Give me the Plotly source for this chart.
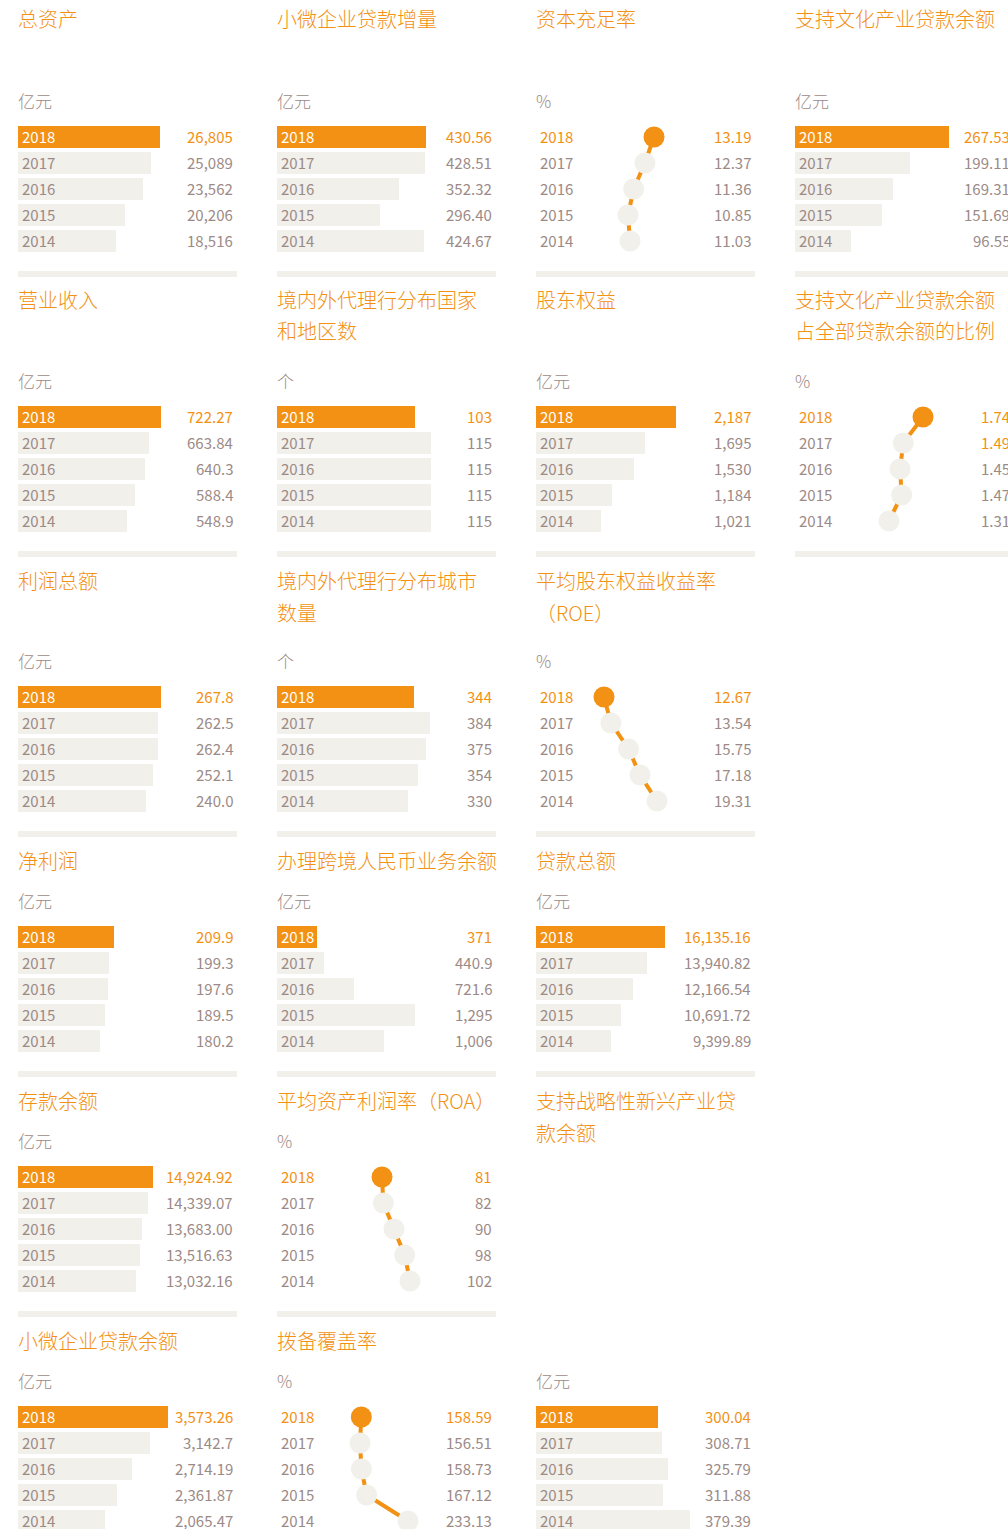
import plotly.graph_objects as go

# ---- data -------------------------------------------------------------
years = ["2018", "2017", "2016", "2015", "2014"]

total_assets = [26805, 25089, 23562, 20206, 18516]
total_assets_lbl = ["26,805", "25,089", "23,562", "20,206", "18,516"]

sme_loan_increase = [430.56, 428.51, 352.32, 296.40, 424.67]
sme_loan_increase_lbl = ["430.56", "428.51", "352.32", "296.40", "424.67"]

capital_adequacy = [13.19, 12.37, 11.36, 10.85, 11.03]
capital_adequacy_lbl = ["13.19", "12.37", "11.36", "10.85", "11.03"]

culture_loans = [267.53, 199.11, 169.31, 151.69, 96.55]
culture_loans_lbl = ["267.53", "199.11", "169.31", "151.69", "96.55"]

revenue = [722.27, 663.84, 640.3, 588.4, 548.9]
revenue_lbl = ["722.27", "663.84", "640.3", "588.4", "548.9"]

agent_countries = [103, 115, 115, 115, 115]
agent_countries_lbl = ["103", "115", "115", "115", "115"]

equity = [2187, 1695, 1530, 1184, 1021]
equity_lbl = ["2,187", "1,695", "1,530", "1,184", "1,021"]

culture_loan_share = [1.74, 1.49, 1.45, 1.47, 1.31]
culture_loan_share_lbl = ["1.74", "1.49", "1.45", "1.47", "1.31"]

total_profit = [267.8, 262.5, 262.4, 252.1, 240.0]
total_profit_lbl = ["267.8", "262.5", "262.4", "252.1", "240.0"]

agent_cities = [344, 384, 375, 354, 330]
agent_cities_lbl = ["344", "384", "375", "354", "330"]

roe = [12.67, 13.54, 15.75, 17.18, 19.31]
roe_lbl = ["12.67", "13.54", "15.75", "17.18", "19.31"]

net_profit = [209.9, 199.3, 197.6, 189.5, 180.2]
net_profit_lbl = ["209.9", "199.3", "197.6", "189.5", "180.2"]

cross_border_rmb = [371, 440.9, 721.6, 1295, 1006]
cross_border_rmb_lbl = ["371", "440.9", "721.6", "1,295", "1,006"]

total_loans = [16135.16, 13940.82, 12166.54, 10691.72, 9399.89]
total_loans_lbl = ["16,135.16", "13,940.82", "12,166.54", "10,691.72", "9,399.89"]

deposits = [14924.92, 14339.07, 13683.00, 13516.63, 13032.16]
deposits_lbl = ["14,924.92", "14,339.07", "13,683.00", "13,516.63", "13,032.16"]

roa = [81, 82, 90, 98, 102]
roa_lbl = ["81", "82", "90", "98", "102"]

emerging_loans = [300.04, 308.71, 325.79, 311.88, 379.39]
emerging_loans_lbl = ["300.04", "308.71", "325.79", "311.88", "379.39"]

sme_loans = [3573.26, 3142.7, 2714.19, 2361.87, 2065.47]
sme_loans_lbl = ["3,573.26", "3,142.7", "2,714.19", "2,361.87", "2,065.47"]

provision_coverage = [158.59, 156.51, 158.73, 167.12, 233.13]
provision_coverage_lbl = ["158.59", "156.51", "158.73", "167.12", "233.13"]

# ---- styling / layout -------------------------------------------------
W, H = 1008, 1529
ORANGE = "#F29113"
GREY_TXT = "#9C8A86"
LIGHT = "#F1F0EB"
FONT = "Noto Sans CJK SC, Noto Sans, sans-serif"

COL_X = [18, 277, 536, 795]
PANEL_W = 219
TITLE_Y = [19, 299, 580, 860, 1100, 1340]
DATA_Y0 = [137, 417, 697, 937, 1177, 1417]
STEP = 26
BAR_H = 22

# (col, title row, data row, title lines, unit, kind, values, labels, x-range, separator, highlighted values)
panels = [
    (0, 0, 0, ["总资产"], "亿元", "bar", total_assets, total_assets_lbl, (0, 41340), True, [0]),
    (1, 0, 0, ["小微企业贷款增量"], "亿元", "bar", sme_loan_increase, sme_loan_increase_lbl, (0, 633), True, [0]),
    (2, 0, 0, ["资本充足率"], "%", "dot", capital_adequacy, capital_adequacy_lbl, (2.57, 22.28), True, [0]),
    (3, 0, 0, ["支持文化产业贷款余额"], "亿元", "bar", culture_loans, culture_loans_lbl, (0, 380), True, [0]),
    (0, 1, 1, ["营业收入"], "亿元", "bar", revenue, revenue_lbl, (0, 1106), True, [0]),
    (1, 1, 1, ["境内外代理行分布国家", "和地区数"], "个", "bar", agent_countries, agent_countries_lbl, (0, 163.5), True, [0]),
    (2, 1, 1, ["股东权益"], "亿元", "bar", equity, equity_lbl, (0, 3421), True, [0]),
    (3, 1, 1, ["支持文化产业贷款余额", "占全部贷款余额的比例"], "%", "dot", culture_loan_share, culture_loan_share_lbl, (0.121, 2.891), True, [0, 1]),
    (0, 2, 2, ["利润总额"], "亿元", "bar", total_profit, total_profit_lbl, (0, 410), True, [0]),
    (1, 2, 2, ["境内外代理行分布城市", "数量"], "个", "bar", agent_cities, agent_cities_lbl, (0, 550), True, [0]),
    (2, 2, 2, ["平均股东权益收益率", "（ROE）"], "%", "dot", roe, roe_lbl, (4.15, 31.59), True, [0]),
    (0, 3, 3, ["净利润"], "亿元", "bar", net_profit, net_profit_lbl, (0, 479), True, [0]),
    (1, 3, 3, ["办理跨境人民币业务余额"], "亿元", "bar", cross_border_rmb, cross_border_rmb_lbl, (0, 2055), True, [0]),
    (2, 3, 3, ["贷款总额"], "亿元", "bar", total_loans, total_loans_lbl, (0, 27390), True, [0]),
    (0, 4, 4, ["存款余额"], "亿元", "bar", deposits, deposits_lbl, (0, 24211), True, [0]),
    (1, 4, 4, ["平均资产利润率（ROA）"], "%", "dot", roa, roa_lbl, (2.25, 166.5), True, [0]),
    (2, 4, 5, ["支持战略性新兴产业贷", "款余额"], "亿元", "bar", emerging_loans, emerging_loans_lbl, (0, 538.6), False, [0]),
    (0, 5, 5, ["小微企业贷款余额"], "亿元", "bar", sme_loans, sme_loans_lbl, (0, 5217), False, [0]),
    (1, 5, 5, ["拨备覆盖率"], "%", "dot", provision_coverage, provision_coverage_lbl, (24.0, 373.6), False, [0]),
]


def py(p):
    """pixel row -> paper y"""
    return 1 - p / H


fig = go.Figure()
annotations = []
shapes = []
layout_axes = {}
rows_idx = list(range(len(years)))
n_rows = len(years)

for n, (col, trow, drow, title, unit, kind, vals, lbls, xr, sep, hi) in enumerate(panels, start=1):
    x0 = COL_X[col]
    y0 = DATA_Y0[drow]
    top = y0 - STEP / 2
    bottom = y0 + STEP * (n_rows - 1) + STEP / 2
    sfx = "" if n == 1 else str(n)
    xa, ya = "x" + sfx, "y" + sfx

    # panels that run past the page edge get their axes trimmed to the page
    overflow_x = max(0, x0 + PANEL_W - W)
    span = PANEL_W - overflow_x
    xmin, xmax = xr
    xmax_vis = xmin + (xmax - xmin) * span / PANEL_W

    overflow_y = max(0, bottom - H)
    bottom_vis = bottom - overflow_y
    ybottom_val = (n_rows - 0.5) - overflow_y / STEP

    layout_axes[f"xaxis{sfx}"] = dict(
        domain=[x0 / W, (x0 + span) / W], range=[xmin, xmax_vis], visible=False,
        fixedrange=True, anchor=ya,
    )
    layout_axes[f"yaxis{sfx}"] = dict(
        domain=[py(bottom_vis), py(top)], range=[ybottom_val, -0.5], visible=False,
        fixedrange=True, anchor=xa,
    )

    if kind == "bar":
        fig.add_trace(go.Bar(
            x=vals, y=rows_idx, orientation="h", xaxis=xa, yaxis=ya,
            width=BAR_H / STEP,
            marker=dict(color=[ORANGE if i == 0 else LIGHT for i in rows_idx], line=dict(width=0)),
            hoverinfo="skip", showlegend=False, cliponaxis=False,
        ))
    else:
        fig.add_trace(go.Scatter(
            x=vals, y=rows_idx, xaxis=xa, yaxis=ya, mode="lines+markers",
            line=dict(color=ORANGE, width=4),
            marker=dict(size=21, color=[ORANGE if i == 0 else LIGHT for i in rows_idx], line=dict(width=0)),
            hoverinfo="skip", showlegend=False, cliponaxis=False,
        ))

    # year labels and value labels
    for i, (yr, lb) in enumerate(zip(years, lbls)):
        if kind == "bar":
            ycol = "#FFFFFF" if i == 0 else GREY_TXT
        else:
            ycol = ORANGE if i == 0 else GREY_TXT
        annotations.append(dict(
            text=yr, xref=f"{xa} domain", x=0, xshift=2, xanchor="left",
            yref=ya, y=i, yshift=1, yanchor="middle", showarrow=False,
            font=dict(family=FONT, size=15, color=ycol),
        ))
        annotations.append(dict(
            text=lb, xref=f"{xa} domain", x=1, xshift=-2 + overflow_x, xanchor="right",
            yref=ya, y=i, yshift=1, yanchor="middle", showarrow=False,
            font=dict(family=FONT, size=15, color=ORANGE if i in hi else GREY_TXT),
        ))

    # title lines
    for k, line in enumerate(title):
        annotations.append(dict(
            text=line, xref="paper", x=x0 / W, xshift=-2, xanchor="left",
            yref="paper", y=py(TITLE_Y[trow] + 32 * k), yanchor="middle", showarrow=False,
            font=dict(family=FONT, size=20, color=ORANGE, weight=300),
        ))
    # unit
    annotations.append(dict(
        text=unit, xref="paper", x=x0 / W, xshift=-2, xanchor="left",
        yref="paper", y=py(y0 - 36), yshift=1, yanchor="middle", showarrow=False,
        font=dict(family=FONT, size=17, color=GREY_TXT, weight=300),
    ))

    if sep:
        s_top = y0 + STEP * (n_rows - 1) + 30
        shapes.append(dict(
            type="rect", xref="paper", yref="paper",
            x0=x0 / W, x1=(x0 + span) / W, y0=py(s_top + 6), y1=py(s_top),
            fillcolor=LIGHT, line=dict(width=0), layer="below",
        ))

fig.update_layout(
    width=W, height=H, margin=dict(l=0, r=0, t=0, b=0),
    paper_bgcolor="#FFFFFF", plot_bgcolor="rgba(0,0,0,0)",
    annotations=annotations, shapes=shapes, bargap=0,
    **layout_axes,
)

fig.write_html("out.html", config={"displayModeBar": False})
